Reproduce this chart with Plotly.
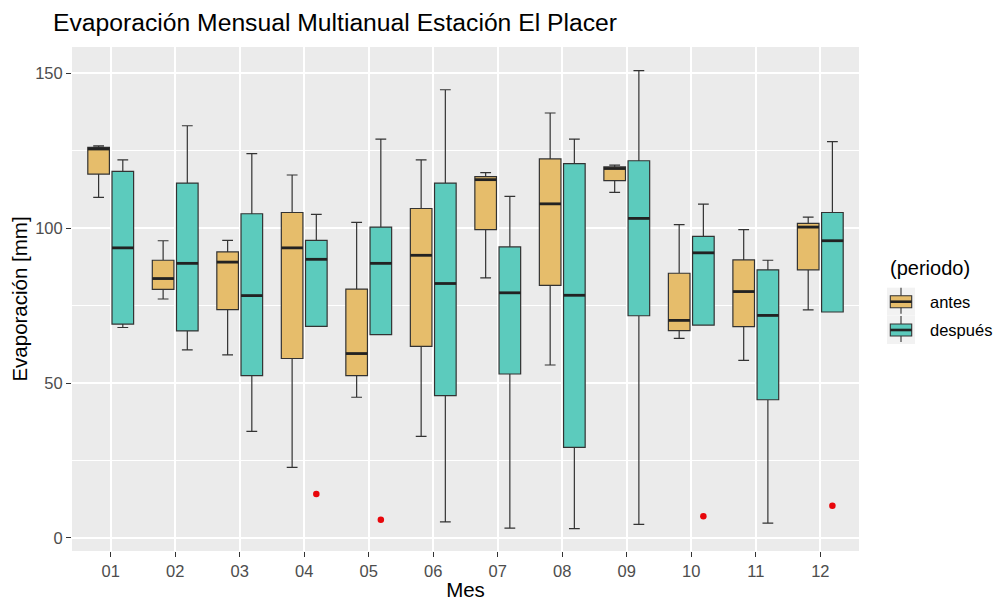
import plotly.graph_objects as go

# Monthly evaporation statistics (mm) per period
months = ["01", "02", "03", "04", "05", "06", "07", "08", "09", "10", "11", "12"]

antes_low = [109.9, 77.1, 59.1, 22.8, 45.4, 32.8, 83.9, 55.8, 111.5, 64.4, 57.3, 73.6]
antes_q1 = [117.4, 80.2, 73.7, 57.9, 52.4, 61.8, 99.5, 81.5, 115.3, 66.9, 68.2, 86.5]
antes_median = [125.5, 83.7, 89.0, 93.6, 59.5, 91.2, 115.6, 107.8, 119.2, 70.2, 79.5, 100.3]
antes_q3 = [126.0, 89.6, 92.3, 105.0, 80.3, 106.3, 116.6, 122.3, 119.7, 85.4, 89.7, 101.5]
antes_high = [126.5, 95.9, 96.0, 117.1, 101.8, 122.0, 117.9, 137.1, 120.3, 101.1, 99.5, 103.5]

despues_low = [67.9, 60.7, 34.4, 68.3, 65.6, 5.2, 3.2, 3.0, 4.4, 68.7, 4.8, 72.9]
despues_q1 = [69.0, 66.8, 52.4, 68.3, 65.6, 45.9, 52.9, 29.2, 71.7, 68.7, 44.6, 72.9]
despues_median = [93.6, 88.6, 78.2, 89.9, 88.6, 82.1, 79.1, 78.3, 103.1, 92.0, 71.8, 95.9]
despues_q3 = [118.3, 114.5, 104.6, 96.0, 100.3, 114.5, 93.9, 120.8, 121.7, 97.3, 86.5, 105.0]
despues_high = [122.0, 133.0, 124.0, 104.4, 128.7, 144.6, 110.2, 128.7, 150.8, 107.7, 89.6, 127.9]

outlier_months = ["04", "05", "10", "12"]
outlier_values = [14.2, 5.9, 7.0, 10.4]

periods = ["antes", "después"]

# Styling
FILL = {"antes": "#E6BD6B", "después": "#5CCBBD"}
EDGE = "#333333"
FONT = "Liberation Sans, Arial, sans-serif"
DODGE = 0.1875
BOX_W = 0.335

pos = {m: i + 1 for i, m in enumerate(months)}

stats = {
    "antes": (antes_low, antes_q1, antes_median, antes_q3, antes_high, -DODGE),
    "después": (despues_low, despues_q1, despues_median, despues_q3, despues_high, DODGE),
}

fig = go.Figure()

for name in periods:
    lo, q1, med, q3, hi, off = stats[name]
    xs = [pos[m] + off for m in months]
    fig.add_trace(go.Box(
        x=xs, q1=q1, median=med, q3=q3, lowerfence=lo, upperfence=hi,
        width=BOX_W, fillcolor=FILL[name],
        line=dict(color=EDGE, width=1.2),
        name=name, showlegend=False, boxpoints=False,
    ))
    # thicker median bar, as ggplot draws it
    mx, my = [], []
    for x, v in zip(xs, med):
        mx += [x - BOX_W / 2, x + BOX_W / 2, None]
        my += [v, v, None]
    fig.add_trace(go.Scatter(
        x=mx, y=my, mode="lines", line=dict(color="#222222", width=2.8),
        showlegend=False, hoverinfo="skip",
    ))

fig.add_trace(go.Scatter(
    x=[pos[m] + DODGE for m in outlier_months], y=outlier_values,
    mode="markers", marker=dict(color="#E8060B", size=6.5),
    showlegend=False,
))

# Plot area geometry (pixels)
W, H = 995, 601
L, R, T, B = 72, 136, 47, 50
PW, PH = W - L - R, H - T - B


def px(x):
    return (x - L) / PW


def py(y):
    return (H - B - y) / PH


# Hand-drawn legend in the ggplot style
shapes = []
annotations = []
annotations.append(dict(
    x=px(888), y=py(268), xref="paper", yref="paper", text="(periodo)",
    showarrow=False, xanchor="left", yanchor="middle",
    font=dict(family=FONT, size=20, color="black"),
))
for i, name in enumerate(periods):
    cy = 301.7 + i * 28.3
    shapes.append(dict(type="rect", xref="paper", yref="paper",
                       x0=px(887), x1=px(915), y0=py(cy - 14), y1=py(cy + 14),
                       fillcolor="#F2F2F2", line=dict(width=0), layer="above"))
    shapes.append(dict(type="line", xref="paper", yref="paper",
                       x0=px(901), x1=px(901), y0=py(cy - 14), y1=py(cy + 12),
                       line=dict(color=EDGE, width=1.1), layer="above"))
    shapes.append(dict(type="rect", xref="paper", yref="paper",
                       x0=px(890.3), x1=px(911.7), y0=py(cy - 6), y1=py(cy + 6),
                       fillcolor=FILL[name], line=dict(color=EDGE, width=1.1), layer="above"))
    shapes.append(dict(type="line", xref="paper", yref="paper",
                       x0=px(890.3), x1=px(911.7), y0=py(cy), y1=py(cy),
                       line=dict(color="#222222", width=2.6), layer="above"))
    annotations.append(dict(
        x=px(928), y=py(cy), xref="paper", yref="paper", text=name,
        showarrow=False, xanchor="left", yanchor="middle",
        font=dict(family=FONT, size=16.5, color="black"),
    ))

fig.update_layout(
    width=W, height=H,
    margin=dict(l=L, r=R, t=T, b=B),
    paper_bgcolor="white", plot_bgcolor="#EBEBEB",
    boxmode="overlay",
    title=dict(
        text="Evaporación Mensual Multianual Estación El Placer",
        x=53 / W, xanchor="left", xref="container",
        y=1 - 22 / H, yanchor="middle", yref="container",
        font=dict(family=FONT, size=24.7, color="black"),
    ),
    shapes=shapes,
    annotations=annotations,
    xaxis=dict(
        range=[0.4, 12.6], tickmode="array",
        tickvals=[pos[m] for m in months], ticktext=months,
        showgrid=True, gridcolor="white", gridwidth=2,
        zeroline=False, showline=False,
        ticks="outside", ticklen=5, tickcolor=EDGE, tickwidth=1.1,
        tickfont=dict(family=FONT, size=16.5, color="#4D4D4D"),
        title=dict(text="Mes", standoff=4,
                   font=dict(family=FONT, size=20.5, color="black")),
        automargin=False,
    ),
    yaxis=dict(
        range=[-4.2, 158.4], tickmode="array", tickvals=[0, 50, 100, 150],
        showgrid=True, gridcolor="white", gridwidth=2,
        minor=dict(tickmode="array", tickvals=[25, 75, 125], showgrid=True,
                   gridcolor="white", gridwidth=1, ticks=""),
        zeroline=False, showline=False,
        ticks="outside", ticklen=5, tickcolor=EDGE, tickwidth=1.1,
        tickfont=dict(family=FONT, size=16.5, color="#4D4D4D"),
        title=dict(text="Evaporación [mm]", standoff=1,
                   font=dict(family=FONT, size=20.5, color="black")),
        automargin=False,
    ),
)

fig.write_html("out.html")
